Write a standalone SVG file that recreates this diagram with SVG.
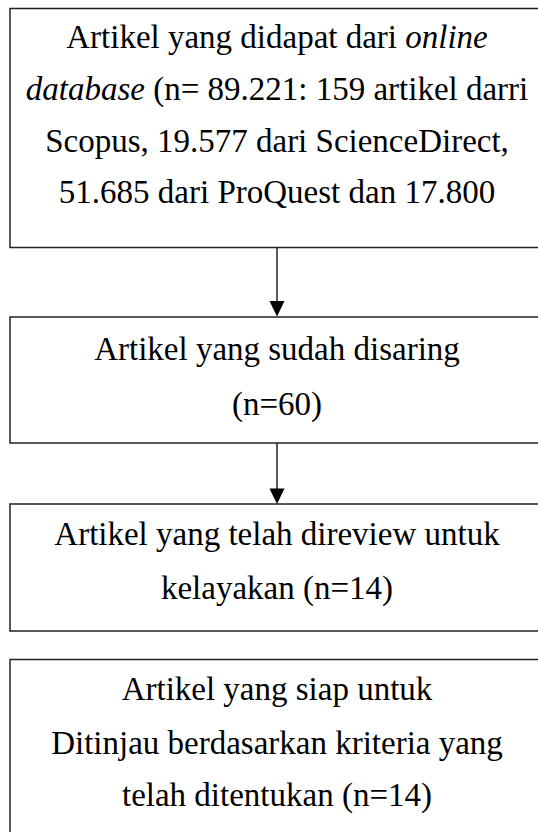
<svg xmlns="http://www.w3.org/2000/svg" width="538" height="832" viewBox="0 0 538 832">
<defs>
<style>
.box{fill:#fff;stroke:#222;stroke-width:1.5}
.t{font-family:'Liberation Serif','Times New Roman',Tinos,'DejaVu Serif',serif;font-size:33px;fill:#000;text-anchor:middle}
.c{stroke:#222;stroke-width:1.5;fill:none}
.h{fill:#000}
</style>
</defs>
<rect width="538" height="832" fill="#fff"/>
<g id="n1">
<rect class="box" x="10" y="8.5" width="540" height="239"/>
<text class="t" x="277" y="48">Artikel yang didapat dari <tspan font-style="italic">online</tspan></text>
<text class="t" x="277" y="100"><tspan font-style="italic">database</tspan> (n= 89.221: 159 artikel darri</text>
<text class="t" x="277" y="152">Scopus, 19.577 dari ScienceDirect,</text>
<text class="t" x="277" y="203">51.685 dari ProQuest dan 17.800</text>
</g>
<g id="n2">
<rect class="box" x="10" y="317" width="540" height="126"/>
<text class="t" x="277" y="360">Artikel yang sudah disaring</text>
<text class="t" x="277" y="415">(n=60)</text>
</g>
<g id="n3">
<rect class="box" x="10" y="504" width="540" height="127"/>
<text class="t" x="277" y="545">Artikel yang telah direview untuk</text>
<text class="t" x="277" y="599">kelayakan (n=14)</text>
</g>
<g id="n4">
<rect class="box" x="10" y="659.5" width="540" height="200"/>
<text class="t" x="277" y="700">Artikel yang siap untuk</text>
<text class="t" x="277" y="754">Ditinjau berdasarkan kriteria yang</text>
<text class="t" x="277" y="806">telah ditentukan (n=14)</text>
</g>
<g id="connectors">
<line class="c" x1="277" y1="248" x2="277" y2="302"/>
<polygon class="h" points="269.5,301 284.5,301 277,316.5"/>
<line class="c" x1="277" y1="443" x2="277" y2="490"/>
<polygon class="h" points="269.5,488.5 284.5,488.5 277,504"/>
</g>
</svg>
